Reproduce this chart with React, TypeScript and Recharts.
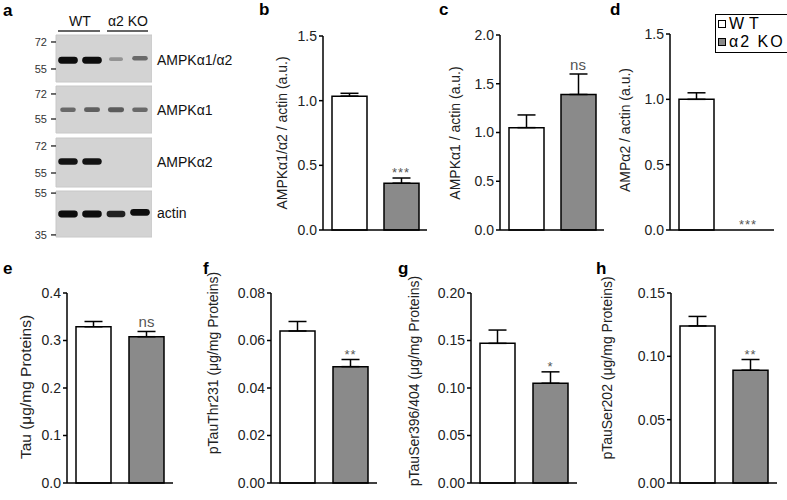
import React from 'react';
import {
  ComposedChart,
  ScatterChart,
  Bar,
  Cell,
  ErrorBar,
  XAxis,
  YAxis,
  Scatter,
  Legend,
  ReferenceArea,
} from 'recharts';

// ---------- data ----------
const GROUPS = ['WT', 'α2 KO'];
const GROUP_FILLS = ['#ffffff', '#8a8a8a'];

const B_MEAN = [1.035, 0.362];
const B_SEM = [0.022, 0.04];
const B_SIG = ['', '***'];

const C_MEAN = [1.05, 1.39];
const C_SEM = [0.13, 0.21];
const C_SIG = ['', 'ns'];

const D_MEAN = [1.0, 0.0];
const D_SEM = [0.05, 0.0];
const D_SIG = ['', '***'];

const E_MEAN = [0.329, 0.308];
const E_SEM = [0.011, 0.011];
const E_SIG = ['', 'ns'];

const F_MEAN = [0.064, 0.049];
const F_SEM = [0.004, 0.003];
const F_SIG = ['', '**'];

const G_MEAN = [0.147, 0.105];
const G_SEM = [0.014, 0.012];
const G_SIG = ['', '*'];

const H_MEAN = [0.124, 0.089];
const H_SEM = [0.0075, 0.0085];
const H_SIG = ['', '**'];

const TICKS_15 = [0, 0.5, 1.0, 1.5];
const TICKS_20 = [0, 0.5, 1.0, 1.5, 2.0];
const TICKS_04 = [0, 0.1, 0.2, 0.3, 0.4];
const TICKS_008 = [0, 0.02, 0.04, 0.06, 0.08];
const TICKS_020 = [0, 0.05, 0.1, 0.15, 0.2];
const TICKS_015 = [0, 0.05, 0.1, 0.15];

// western blot (panel a): band intensity per lane and apparent MW (kDa)
const LANES = [1, 2, 3, 4];
const BLOT_NAMES = ['AMPKα1/α2', 'AMPKα1', 'AMPKα2', 'actin'];
const BLOT1_INT = [0.95, 0.95, 0.25, 0.45];
const BLOT1_MW = [60.5, 60.5, 61.2, 61.8];
const BLOT2_INT = [0.45, 0.5, 0.52, 0.45];
const BLOT2_MW = [61.3, 61.3, 61.3, 61.3];
const BLOT3_INT = [0.92, 0.92, 0, 0];
const BLOT3_MW = [62.2, 62.2, 62.2, 62.2];
const BLOT4_INT = [0.95, 0.95, 0.85, 0.95];
const BLOT4_MW = [45.0, 45.0, 45.0, 45.8];
const BLOT_MARKERS = [
  [55, 72],
  [55, 72],
  [55, 72],
  [35, 55],
];
const BLOT_INTS = [BLOT1_INT, BLOT2_INT, BLOT3_INT, BLOT4_INT];
const BLOT_MWS = [BLOT1_MW, BLOT2_MW, BLOT3_MW, BLOT4_MW];

// ---------- layout ----------
const FONT = '"Liberation Sans", Arial, Helvetica, sans-serif';
const YW = 72;
const MT = 34;
const MR = 14;
const XH = 20;

const SigShape = (props: any) => {
  const { cx, cy, payload } = props;
  if (!payload || !payload.sig) return <g />;
  const star = payload.sig.indexOf('*') >= 0;
  return (
    <text
      x={cx}
      y={cy - (star ? 1 : 4)}
      textAnchor="middle"
      fontSize={star ? 13 : 15}
      fill="#555"
      fontFamily={FONT}
      letterSpacing={star ? 1 : 0}
    >
      {payload.sig}
    </text>
  );
};

const LegendBox = () => (
  <div
    style={{
      border: '1.2px solid #000',
      background: '#fff',
      padding: '0px 3px 1px 2px',
      fontFamily: FONT,
      fontSize: 16,
      lineHeight: '18px',
      color: '#000',
      whiteSpace: 'nowrap',
    }}
  >
    {GROUPS.map((g, i) => (
      <div key={g} style={{ display: 'flex', alignItems: 'center' }}>
        <span
          style={{
            display: 'inline-block',
            width: 6,
            height: 6,
            border: '1px solid #000',
            background: GROUP_FILLS[i],
            marginRight: 3,
          }}
        />
        <span style={{ letterSpacing: i === 0 ? 5 : 2 }}>{g}</span>
      </div>
    ))}
  </div>
);

type PanelProps = {
  axisX: number;
  plotTop: number;
  plotBottom: number;
  plotW: number;
  domain: [number, number];
  ticks: number[];
  dec: number;
  means: number[];
  sems: number[];
  sigs: string[];
  label: string;
  labelX: number;
  labelY: number;
  labelSize?: number;
  legend?: boolean;
};

function Panel(p: PanelProps) {
  const plotH = p.plotBottom - p.plotTop;
  const width = YW + p.plotW + MR;
  const height = MT + plotH + XH;
  const left = p.axisX - YW;
  const top = p.plotTop - MT;
  const data = GROUPS.map((g, i) => ({
    name: g,
    mean: p.means[i],
    err: [0, p.sems[i]],
    top: p.means[i] + p.sems[i],
    sig: p.sigs[i],
  }));
  const labelContent = () => {
    const lx = p.labelX - left;
    const ly = p.labelY - top;
    return (
      <text
        x={lx}
        y={ly}
        transform={`rotate(-90 ${lx} ${ly})`}
        textAnchor="middle"
        dominantBaseline="central"
        fontSize={p.labelSize || 13.5}
        fill="#222"
        fontFamily={FONT}
      >
        {p.label}
      </text>
    );
  };
  return (
    <div style={{ position: 'absolute', left, top }}>
      <ComposedChart
        width={width}
        height={height}
        data={data}
        margin={{ top: MT, right: MR, left: 0, bottom: 0 }}
      >
        <XAxis
          dataKey="name"
          tick={false}
          tickLine={false}
          height={XH}
          axisLine={{ stroke: '#000', strokeWidth: 1.5 }}
        />
        <YAxis
          type="number"
          domain={p.domain}
          ticks={p.ticks}
          interval={0}
          width={YW}
          tickSize={4}
          tickMargin={2}
          tickLine={{ stroke: '#000', strokeWidth: 1.5 }}
          axisLine={{ stroke: '#000', strokeWidth: 1.5 }}
          tick={{ fill: '#222', fontSize: 14, fontFamily: FONT }}
          tickFormatter={(v: number) => v.toFixed(p.dec)}
          label={{ content: labelContent }}
        />
        <Bar
          dataKey="mean"
          barSize={35}
          stroke="#000"
          strokeWidth={1.5}
          isAnimationActive={false}
        >
          {data.map((d, i) => (
            <Cell key={d.name} fill={GROUP_FILLS[i]} />
          ))}
          <ErrorBar
            dataKey="err"
            width={9}
            stroke="#000"
            strokeWidth={1.5}
            direction="y"
            isAnimationActive={false}
          />
        </Bar>
        <Scatter dataKey="top" shape={SigShape} isAnimationActive={false} />
        {p.legend ? (
          <Legend
            layout="vertical"
            align="center"
            verticalAlign="middle"
            content={() => <LegendBox />}
            wrapperStyle={{ left: 715 - left, top: 14 - top, width: 'auto' }}
          />
        ) : null}
      </ComposedChart>
    </div>
  );
}

const BandShape = (props: any) => {
  const { cx, cy, payload } = props;
  const a = payload.intensity;
  if (!a) return <g />;
  const w = 12 + 8 * a;
  const h = 2.5 + 4.5 * a;
  return (
    <rect
      x={cx - w / 2}
      y={cy - h / 2}
      width={w}
      height={h}
      rx={h / 2}
      fill="#0a0a0a"
      fillOpacity={Math.min(1, a + 0.05)}
      filter="url(#bandblur)"
    />
  );
};

const STRIP_BOXES = [
  { top: 35, bottom: 82, domain: [46.8, 76.4] },
  { top: 86, bottom: 133, domain: [45.5, 77.4] },
  { top: 138, bottom: 187, domain: [46.2, 77.0] },
  { top: 191, bottom: 237, domain: [34.0, 56.0] },
];

function BlotStrip({ idx }: { idx: number }) {
  const box = STRIP_BOXES[idx];
  const BW = 30;
  const stripLeft = 56;
  const stripW = 96;
  const pad = 8;
  const data = LANES.map((l, i) => ({
    lane: l,
    mw: BLOT_MWS[idx][i],
    intensity: BLOT_INTS[idx][i],
  }));
  const [lo, hi] = box.domain;
  return (
    <div style={{ position: 'absolute', left: stripLeft - BW, top: box.top - pad }}>
      <ScatterChart
        width={BW + stripW}
        height={box.bottom - box.top + 2 * pad}
        margin={{ top: pad, bottom: pad, left: 0, right: 0 }}
      >
        <XAxis type="number" dataKey="lane" domain={[0.5, 4.5]} hide />
        <YAxis
          type="number"
          dataKey="mw"
          domain={[lo, hi]}
          ticks={BLOT_MARKERS[idx]}
          interval={0}
          width={BW}
          axisLine={false}
          tickSize={5}
          tickMargin={4}
          tickLine={{ stroke: '#222', strokeWidth: 1.3 }}
          tick={{ fill: '#333', fontSize: 11, fontFamily: FONT }}
        />
        <ReferenceArea
          x1={0.5}
          x2={4.5}
          y1={lo}
          y2={hi}
          fill="#d3d3d3"
          fillOpacity={1}
          stroke="#c8c8c8"
          strokeWidth={1}
        />
        <Scatter data={data} shape={BandShape} isAnimationActive={false} />
      </ScatterChart>
    </div>
  );
}

const LETTERS = [
  { t: 'a', x: 3, y: 16 },
  { t: 'b', x: 259, y: 15 },
  { t: 'c', x: 439, y: 15 },
  { t: 'd', x: 610, y: 15 },
  { t: 'e', x: 3, y: 274 },
  { t: 'f', x: 203, y: 274 },
  { t: 'g', x: 398, y: 274 },
  { t: 'h', x: 596, y: 274 },
];

const BLOT_LABEL_Y = [65, 115, 167, 218];

export default function App() {
  return (
    <div
      style={{
        position: 'absolute',
        left: 0,
        top: 0,
        width: 787,
        height: 500,
        background: '#fff',
        fontFamily: FONT,
        overflow: 'hidden',
      }}
    >
      {STRIP_BOXES.map((_, i) => (
        <BlotStrip key={i} idx={i} />
      ))}
      <Panel
        axisX={323}
        plotTop={36}
        plotBottom={230}
        plotW={104}
        domain={[0, 1.5]}
        ticks={TICKS_15}
        dec={1}
        means={B_MEAN}
        sems={B_SEM}
        sigs={B_SIG}
        label="AMPKα1/α2 / actin (a.u.)"
        labelX={282}
        labelY={133}
        labelSize={14}
      />
      <Panel
        axisX={500}
        plotTop={35}
        plotBottom={230}
        plotW={104}
        domain={[0, 2]}
        ticks={TICKS_20}
        dec={1}
        means={C_MEAN}
        sems={C_SEM}
        sigs={C_SIG}
        label="AMPKα1 / actin (a.u.)"
        labelX={455}
        labelY={133}
        labelSize={14}
      />
      <Panel
        axisX={670}
        plotTop={34}
        plotBottom={230}
        plotW={104}
        domain={[0, 1.5]}
        ticks={TICKS_15}
        dec={1}
        means={D_MEAN}
        sems={D_SEM}
        sigs={D_SIG}
        label="AMPα2 / actin (a.u.)"
        labelX={625}
        labelY={130}
        labelSize={14}
        legend
      />
      <Panel
        axisX={67}
        plotTop={293}
        plotBottom={483}
        plotW={106}
        domain={[0, 0.4]}
        ticks={TICKS_04}
        dec={1}
        means={E_MEAN}
        sems={E_SEM}
        sigs={E_SIG}
        label="Tau (μg/mg Proteins)"
        labelX={25}
        labelY={387}
        labelSize={15.5}
      />
      <Panel
        axisX={271}
        plotTop={293}
        plotBottom={483}
        plotW={106}
        domain={[0, 0.08]}
        ticks={TICKS_008}
        dec={2}
        means={F_MEAN}
        sems={F_SEM}
        sigs={F_SIG}
        label="pTauThr231 (μg/mg Proteins)"
        labelX={213}
        labelY={363}
        labelSize={14}
      />
      <Panel
        axisX={471}
        plotTop={293}
        plotBottom={483}
        plotW={106}
        domain={[0, 0.2]}
        ticks={TICKS_020}
        dec={2}
        means={G_MEAN}
        sems={G_SEM}
        sigs={G_SIG}
        label="pTauSer396/404 (μg/mg Proteins)"
        labelX={414}
        labelY={381}
        labelSize={14}
      />
      <Panel
        axisX={671}
        plotTop={293}
        plotBottom={483}
        plotW={106}
        domain={[0, 0.15]}
        ticks={TICKS_015}
        dec={2}
        means={H_MEAN}
        sems={H_SEM}
        sigs={H_SIG}
        label="pTauSer202 (μg/mg Proteins)"
        labelX={607}
        labelY={368}
        labelSize={14}
      />
      <svg
        width={787}
        height={500}
        style={{ position: 'absolute', left: 0, top: 0, pointerEvents: 'none' }}
      >
        <defs>
          <filter id="bandblur" x="-20%" y="-60%" width="140%" height="220%">
            <feGaussianBlur stdDeviation="0.7" />
          </filter>
        </defs>
        {LETTERS.map((l) => (
          <text
            key={l.t}
            x={l.x}
            y={l.y}
            fontSize={17}
            fontWeight="bold"
            fontFamily={FONT}
            fill="#000"
          >
            {l.t}
          </text>
        ))}
        <text x={80} y={26} textAnchor="middle" fontSize={14} fontFamily={FONT} fill="#111">
          {GROUPS[0]}
        </text>
        <text x={128} y={26} textAnchor="middle" fontSize={14} fontFamily={FONT} fill="#111">
          {GROUPS[1]}
        </text>
        <line x1={58} x2={100} y1={31} y2={31} stroke="#333" strokeWidth={1.6} />
        <line x1={107} x2={148} y1={31} y2={31} stroke="#333" strokeWidth={1.6} />
        {BLOT_NAMES.map((n, i) => (
          <text
            key={n}
            x={157}
            y={BLOT_LABEL_Y[i]}
            fontSize={14}
            fontFamily={FONT}
            fill="#111"
          >
            {n}
          </text>
        ))}
      </svg>
    </div>
  );
}
